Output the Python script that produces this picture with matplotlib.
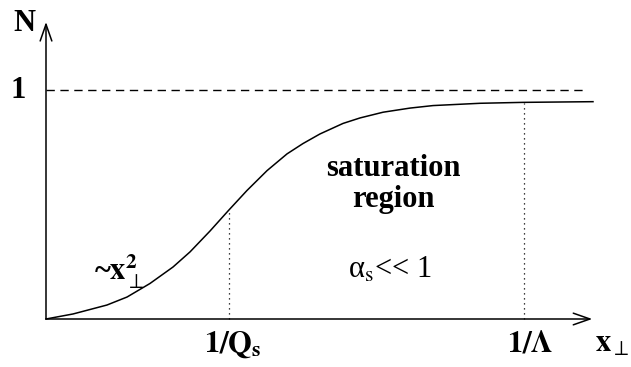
import matplotlib
matplotlib.use("Agg")
import matplotlib.pyplot as plt

# curve N(x_perp), x in units of 1/Q_s
x_curve = [0.0, 0.148, 0.333, 0.443, 0.568, 0.694, 0.787, 0.896, 0.995, 1.098, 1.208,
           1.317, 1.404, 1.497, 1.623, 1.716, 1.842, 1.989, 2.115, 2.372, 2.607, 2.989]
n_curve = [0.0, 0.022, 0.061, 0.096, 0.155, 0.227, 0.293, 0.384, 0.472, 0.561, 0.648,
           0.721, 0.766, 0.808, 0.854, 0.878, 0.903, 0.921, 0.932, 0.942, 0.946, 0.949]

x_qs = 1.0        # 1/Q_s
x_lam = 2.61      # 1/Lambda
n_sat = 1.0
x_end = 2.985
n_top = 1.297

plt.rcParams['mathtext.fontset'] = 'stix'
plt.rcParams['font.family'] = 'Liberation Serif'

fig = plt.figure(figsize=(6.31, 3.67), dpi=100)
ax = fig.add_axes([0, 0, 1, 1])
ax.set_xlim(-46 / 183, 585 / 183)
ax.set_ylim(-48 / 229, 319 / 229)
ax.axis('off')

# axes with open arrow heads
arr = dict(arrowstyle='->,head_length=1.2,head_width=0.42', lw=1.1, color='black',
           shrinkA=0, shrinkB=0)
ax.annotate('', xy=(x_end, 0), xytext=(0, 0), arrowprops=arr)
ax.annotate('', xy=(0, n_top), xytext=(0, 0), arrowprops=arr)

# saturation level
ax.plot([0, 2.956], [n_sat, n_sat], color='black', lw=1.0, ls=(0, (6, 4)))

# curve
ax.plot(x_curve, n_curve, color='black', lw=1.1, solid_joinstyle='round')

# dotted markers
ax.plot([x_qs, x_qs], [0, 0.47], color='black', lw=0.9, ls=(0, (1, 3)))
ax.plot([x_lam, x_lam], [0, 0.943], color='black', lw=0.9, ls=(0, (1, 3)))

fs = 22
ax.text(-0.06, 1.355, 'N', fontsize=fs, fontweight='bold', ha='right', va='top')
ax.text(-0.11, n_sat, '1', fontsize=fs, fontweight='bold', ha='right', va='center')
ax.text(x_qs + 0.02, -0.11, r'$\mathbf{1/Q}_{\mathbf{s}}$', fontsize=fs, ha='center', va='center')
ax.text(x_lam + 0.035, -0.11, r'$\mathbf{1/\Lambda}$', fontsize=fs, ha='center', va='center')
ax.text(3.095, -0.11, r'$\mathbf{x}_{\perp}$', fontsize=fs, ha='center', va='center')
ax.text(0.40, 0.205, r'~$\mathbf{x}_{\perp}^{\mathbf{2}}$', fontsize=fs, fontweight='bold',
        ha='center', va='center')
ax.text(1.896, 0.624, 'saturation', fontsize=fs, fontweight='bold',
        ha='center', va='baseline')
ax.text(1.90, 0.489, 'region', fontsize=fs, fontweight='bold',
        ha='center', va='baseline')
ax.text(1.88, 0.179, r'α$_{\rm s}$<< 1', fontsize=22, ha='center', va='baseline')

fig.savefig('out.png', dpi=100)
